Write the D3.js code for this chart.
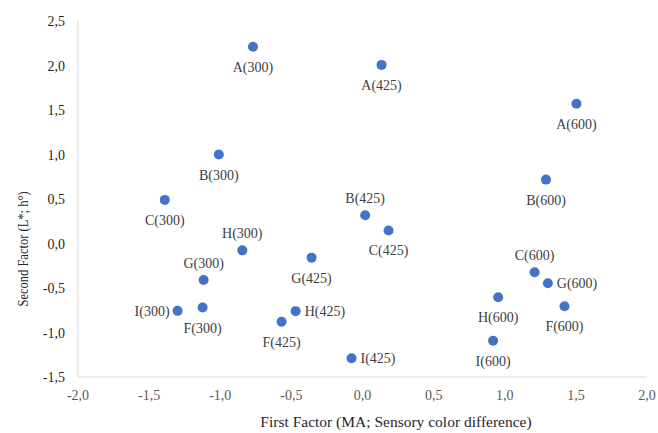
<!DOCTYPE html>
<html>
<head>
<meta charset="utf-8">
<title>First vs second factor</title>
<script src="https://cdn.jsdelivr.net/npm/d3@7"></script>
<style>
  body { margin: 0; background: #fff; }
  text { font-family: "Liberation Serif", "Times New Roman", serif; }
</style>
</head>
<body>
<div id="chart"></div>
<script>
// sample labels, factor scores and where each label sits
var names  = ["A(300)", "B(300)", "C(300)", "H(300)", "G(300)", "I(300)", "F(300)",
              "A(425)", "B(425)", "C(425)", "G(425)", "H(425)", "F(425)", "I(425)",
              "A(600)", "B(600)", "C(600)", "G(600)", "H(600)", "F(600)", "I(600)"];
var first  = [-0.77, -1.01, -1.39, -0.845, -1.117, -1.30, -1.124,
               0.134, 0.019, 0.183, -0.358, -0.47, -0.569, -0.077,
               1.504, 1.29, 1.21, 1.303, 0.954, 1.42, 0.918];
var second = [2.21, 1.0, 0.49, -0.077, -0.41, -0.757, -0.72,
              2.007, 0.318, 0.147, -0.159, -0.76, -0.88, -1.29,
              1.57, 0.718, -0.324, -0.447, -0.604, -0.705, -1.093];
var labelPos = ["below", "below", "below", "above", "above", "left", "below",
                "below", "above", "below", "below", "right", "below", "right",
                "below", "below", "above", "right", "below", "below", "below"];
var xTicks = [-2.0, -1.5, -1.0, -0.5, 0.0, 0.5, 1.0, 1.5, 2.0];
var yTicks = [-1.5, -1.0, -0.5, 0.0, 0.5, 1.0, 1.5, 2.0, 2.5];

var W = 658, H = 433;
var margin = { top: 21, right: 11, bottom: 56, left: 78 };

var svg = d3.select("#chart").append("svg")
  .attr("width", W)
  .attr("height", H);

var x = d3.scaleLinear().domain([-2, 2]).range([margin.left, W - margin.right]);
var y = d3.scaleLinear().domain([-1.5, 2.5]).range([H - margin.bottom, margin.top]);

var fmt = function(d) { return d3.format(".1f")(d).replace(".", ",").replace("−", "-"); };

// axis lines
svg.append("line")
  .attr("x1", x(-2)).attr("x2", x(2))
  .attr("y1", y(-1.5)).attr("y2", y(-1.5))
  .attr("stroke", "#d9d9d9").attr("stroke-width", 1);
svg.append("line")
  .attr("x1", x(-2)).attr("x2", x(-2))
  .attr("y1", y(-1.5)).attr("y2", y(2.5))
  .attr("stroke", "#d9d9d9").attr("stroke-width", 1);

// tick labels
svg.selectAll(".xtick")
  .data(xTicks)
  .enter().append("text")
  .attr("class", "xtick")
  .attr("x", function(d) { return x(d); })
  .attr("y", y(-1.5) + 23)
  .attr("text-anchor", "middle")
  .attr("font-size", 14)
  .attr("fill", "#595959")
  .text(fmt);

svg.selectAll(".ytick")
  .data(yTicks)
  .enter().append("text")
  .attr("class", "ytick")
  .attr("x", x(-2) - 13)
  .attr("y", function(d) { return y(d) + 5; })
  .attr("text-anchor", "end")
  .attr("font-size", 14)
  .attr("fill", "#262626")
  .text(fmt);

// axis titles
svg.append("text")
  .attr("x", 396)
  .attr("y", 427)
  .attr("text-anchor", "middle")
  .attr("font-size", 15.5)
  .attr("fill", "#262626")
  .text("First Factor (MA; Sensory color difference)");

// the y title is drawn a bit squeezed along its length, like in the original
svg.append("text")
  .attr("transform", "translate(28,249) rotate(-90) scale(0.835,1)")
  .attr("text-anchor", "middle")
  .attr("font-size", 15)
  .attr("fill", "#262626")
  .text("Second Factor (L*; h°)");

// points
var pts = names.map(function(n, i) {
  return { name: n, x: first[i], y: second[i], pos: labelPos[i] };
});

svg.selectAll(".dot")
  .data(pts)
  .enter().append("circle")
  .attr("class", "dot")
  .attr("cx", function(d) { return x(d.x); })
  .attr("cy", function(d) { return y(d.y); })
  .attr("r", 5)
  .attr("fill", "#4472c4");

svg.selectAll(".lbl")
  .data(pts)
  .enter().append("text")
  .attr("class", "lbl")
  .attr("font-size", 14)
  .attr("fill", "#404040")
  .attr("text-anchor", function(d) {
    return d.pos == "left" ? "end" : d.pos == "right" ? "start" : "middle";
  })
  .attr("x", function(d) {
    if (d.pos == "left") return x(d.x) - 8;
    if (d.pos == "right") return x(d.x) + 9;
    return x(d.x);
  })
  .attr("y", function(d) {
    if (d.pos == "below") return y(d.y) + 25;
    if (d.pos == "above") return y(d.y) - 12;
    return y(d.y) + 5;
  })
  .text(function(d) { return d.name; });
</script>
</body>
</html>
